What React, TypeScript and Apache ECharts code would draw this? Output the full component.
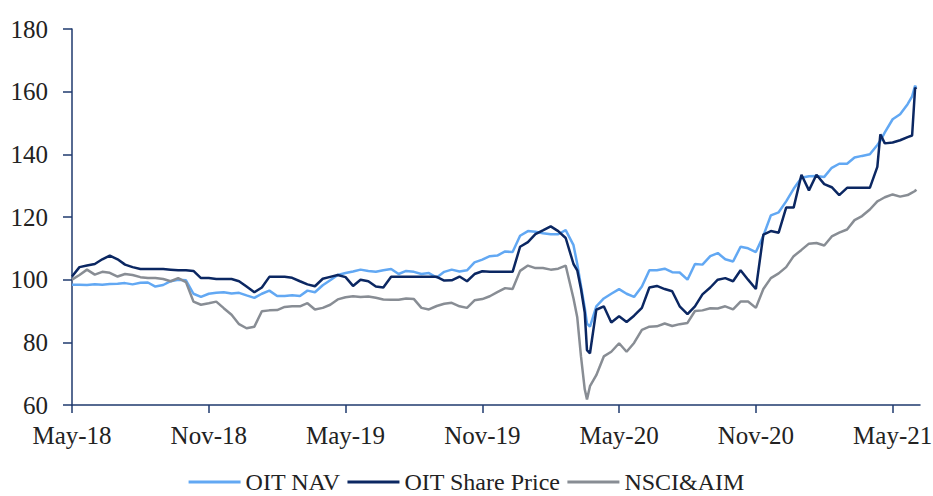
import React, { useEffect, useRef } from "react";
import * as echarts from "echarts";

const dates: string[] = [
  "2018-05-01", "2018-05-11", "2018-05-21", "2018-06-01", "2018-06-11", "2018-06-21",
  "2018-07-01", "2018-07-11", "2018-07-21", "2018-08-01", "2018-08-11", "2018-08-21",
  "2018-09-01", "2018-09-11", "2018-09-21", "2018-10-01", "2018-10-11", "2018-10-21",
  "2018-11-01", "2018-11-11", "2018-11-21", "2018-12-01", "2018-12-11", "2018-12-21",
  "2019-01-01", "2019-01-11", "2019-01-21", "2019-02-01", "2019-02-11", "2019-02-21",
  "2019-03-01", "2019-03-11", "2019-03-21", "2019-04-01", "2019-04-11", "2019-04-21",
  "2019-05-01", "2019-05-11", "2019-05-21", "2019-06-01", "2019-06-11", "2019-06-21",
  "2019-07-01", "2019-07-11", "2019-07-21", "2019-08-01", "2019-08-11", "2019-08-21",
  "2019-09-01", "2019-09-11", "2019-09-21", "2019-10-01", "2019-10-11", "2019-10-21",
  "2019-11-01", "2019-11-11", "2019-11-21", "2019-12-01", "2019-12-11", "2019-12-21",
  "2020-01-01", "2020-01-11", "2020-01-21", "2020-02-01", "2020-02-11", "2020-02-21",
  "2020-03-01", "2020-03-06", "2020-03-11", "2020-03-16", "2020-03-19", "2020-03-23",
  "2020-04-01", "2020-04-11", "2020-04-21", "2020-05-01", "2020-05-11", "2020-05-21",
  "2020-06-01", "2020-06-11", "2020-06-21", "2020-07-01", "2020-07-11", "2020-07-21",
  "2020-08-01", "2020-08-11", "2020-08-21", "2020-09-01", "2020-09-11", "2020-09-21",
  "2020-10-01", "2020-10-11", "2020-10-21", "2020-11-01", "2020-11-11", "2020-11-21",
  "2020-12-01", "2020-12-11", "2020-12-21", "2021-01-01", "2021-01-11", "2021-01-21",
  "2021-02-01", "2021-02-11", "2021-02-21", "2021-03-01", "2021-03-11", "2021-03-21",
  "2021-04-01", "2021-04-11", "2021-04-15", "2021-04-21",
  "2021-05-01", "2021-05-11", "2021-05-21", "2021-05-27", "2021-05-31", "2021-06-02",
];

const oitNav: number[] = [
  98.4, 98.4, 98.3, 98.5, 98.4, 98.6,
  98.7, 98.9, 98.5, 99.0, 99.1, 97.8,
  98.3, 99.5, 100.0, 99.8, 95.5, 94.5,
  95.5, 95.8, 96.0, 95.6, 95.8, 95.0,
  94.2, 95.5, 96.5, 94.8, 94.8, 95.0,
  94.8, 96.5, 96.0, 98.2, 99.8, 101.5,
  102.1, 102.6, 103.2, 102.8, 102.5, 103.0,
  103.4, 101.8, 102.8, 102.5, 101.8, 102.1,
  100.7, 102.5, 103.2, 102.6, 103.0, 105.5,
  106.4, 107.5, 107.7, 109.0, 108.8, 114.0,
  115.5, 115.3, 114.8, 114.5, 114.5, 115.8,
  111.0, 105.0, 98.0, 91.0, 86.0, 85.0,
  91.5, 94.0, 95.5, 97.0, 95.5, 94.5,
  97.8, 103.0, 103.0, 103.5, 102.4, 102.3,
  100.0, 105.0, 104.8, 107.5, 108.5, 106.5,
  105.8, 110.5, 110.0, 108.8, 114.0, 120.5,
  121.5, 125.0, 129.0, 132.5, 133.0, 133.1,
  132.8, 135.7, 137.0, 137.0, 139.0, 139.5,
  140.0, 143.0, 144.3, 147.0,
  151.2, 152.8, 156.0, 158.5, 161.9, 161.2,
];

const oitSharePrice: number[] = [
  101.0, 104.0, 104.5, 105.0, 106.5, 107.7,
  106.5, 104.8, 104.0, 103.4, 103.4, 103.4,
  103.4, 103.2, 103.0, 103.0, 102.8, 100.5,
  100.5, 100.2, 100.2, 100.2, 99.5, 97.8,
  96.0, 97.5, 100.9, 100.9, 100.9, 100.6,
  99.5, 98.5, 97.9, 100.3, 100.9, 101.5,
  100.8, 98.0, 100.0, 99.5, 97.8, 97.5,
  100.9, 100.9, 100.9, 100.9, 100.9, 100.9,
  100.9, 99.7, 99.8, 101.0, 99.5, 101.8,
  102.7, 102.5, 102.5, 102.5, 102.5, 110.5,
  112.0, 114.5, 115.7, 117.0, 115.5, 113.3,
  105.0, 103.0, 97.0, 89.5, 77.5, 76.5,
  90.4, 91.5, 86.3, 88.3, 86.5, 88.5,
  91.0, 97.5, 98.0, 97.0, 96.3, 91.5,
  89.0, 91.5, 95.3, 97.5, 100.0, 100.5,
  99.5, 103.0, 100.0, 97.0, 114.4, 115.5,
  115.0, 123.0, 123.0, 133.5, 128.5, 133.5,
  130.5, 129.5, 127.0, 129.3, 129.3, 129.3,
  129.3, 136.0, 146.4, 143.5,
  143.8, 144.5, 145.5, 146.0, 161.3, 160.8,
];

const nsciAim: number[] = [
  100.0, 101.5, 103.2, 101.6, 102.5, 102.2,
  101.0, 101.8, 101.5, 100.8, 100.5, 100.5,
  100.2, 99.5, 100.5, 99.2, 93.0, 92.0,
  92.5, 93.0, 90.9, 88.8, 85.8, 84.5,
  85.0, 89.9, 90.2, 90.3, 91.3, 91.5,
  91.5, 92.5, 90.5, 91.0, 92.0, 93.7,
  94.4, 94.7, 94.5, 94.6, 94.2, 93.7,
  93.6, 93.6, 94.0, 93.8, 91.0, 90.5,
  91.6, 92.3, 92.6, 91.5, 91.0, 93.4,
  93.8, 94.7, 96.0, 97.3, 97.0, 102.8,
  104.5, 103.7, 103.7, 103.2, 103.5, 104.5,
  94.0, 88.0, 75.5, 65.0, 61.8, 66.0,
  69.5, 75.5, 77.0, 79.7, 77.0, 79.8,
  84.0, 85.0, 85.1, 86.0, 85.2, 85.8,
  86.2, 90.0, 90.2, 90.9, 90.8, 91.5,
  90.5, 93.0, 93.0, 91.0, 97.0, 100.5,
  102.0, 104.0, 107.5, 109.5, 111.5, 111.7,
  110.9, 113.8, 115.0, 116.0, 119.0, 120.3,
  122.4, 125.0, 125.5, 126.3,
  127.2, 126.5, 127.0, 127.8, 128.3, 128.8,
];

const seriesNames = ["OIT NAV", "OIT Share Price", "NSCI&AIM"];
const xTickValues = [0, 6, 12, 18, 24, 30, 36];
const xTickLabels = ["May-18", "Nov-18", "May-19", "Nov-19", "May-20", "Nov-20", "May-21"];
const yTicks = [60, 80, 100, 120, 140, 160, 180];

const toMonths = (s: string): number => {
  const [y, m, d] = s.split("-").map(Number);
  return (y - 2018) * 12 + (m - 5) + (d - 1) / 30.44;
};

const pairs = (vals: number[]) => dates.map((d, i) => [toMonths(d), vals[i]]);

const FONT = "Liberation Serif";
const AXIS = "#1F3A6E";
const C_NAV = "#62A8F3";
const C_SP = "#0B2762";
const C_IDX = "#888D94";

export default function App() {
  const ref = useRef<HTMLDivElement>(null);
  useEffect(() => {
    if (!ref.current) return;
    const chart = echarts.init(ref.current, undefined, { renderer: "svg" });
    const legendText = { fontFamily: FONT, fontSize: 24, color: "#222" };
    chart.setOption({
      animation: false,
      textStyle: { fontFamily: FONT },
      grid: { left: 72, right: 13, top: 29, bottom: 91, containLabel: false, outerBoundsMode: "none" },
      legend: {
        data: [
          { name: seriesNames[0], itemStyle: { color: C_NAV }, textStyle: legendText },
          { name: seriesNames[1], itemStyle: { color: C_SP }, textStyle: legendText },
          { name: seriesNames[2], itemStyle: { color: C_IDX }, textStyle: legendText },
        ],
        icon: "rect",
        top: 465,
        left: "center",
        itemWidth: 52,
        itemHeight: 3,
        itemGap: 7,
        textStyle: legendText,
      },
      xAxis: {
        type: "value",
        min: 0,
        max: 37.2,
        interval: 6,
        axisLine: { show: true, lineStyle: { color: AXIS, width: 1.5 } },
        axisTick: { show: true, length: 8, lineStyle: { color: AXIS, width: 1.5 }, customValues: xTickValues },
        axisLabel: {
          customValues: xTickValues,
          margin: 18,
          fontFamily: FONT,
          fontSize: 25,
          color: "#222",
          formatter: (v: number) => {
            const idx = xTickValues.indexOf(Math.round(v));
            return idx >= 0 && Math.abs(v - Math.round(v)) < 1e-6 ? xTickLabels[idx] : "";
          },
        },
        splitLine: { show: false },
      },
      yAxis: {
        type: "value",
        min: yTicks[0],
        max: yTicks[yTicks.length - 1],
        interval: 20,
        axisLine: { show: true, lineStyle: { color: AXIS, width: 1.5 } },
        axisTick: { show: true, length: 9, lineStyle: { color: AXIS, width: 1.5 } },
        axisLabel: { margin: 24, fontFamily: FONT, fontSize: 25, color: "#222" },
        splitLine: { show: false },
      },
      series: [
        {
          name: seriesNames[0],
          type: "line",
          data: pairs(oitNav),
          symbol: "none",
          showSymbol: false,
          color: C_NAV,
          lineStyle: { color: C_NAV, width: 2.5 },
          z: 2,
        },
        {
          name: seriesNames[2],
          type: "line",
          data: pairs(nsciAim),
          symbol: "none",
          showSymbol: false,
          color: C_IDX,
          lineStyle: { color: C_IDX, width: 2.5 },
          z: 3,
        },
        {
          name: seriesNames[1],
          type: "line",
          data: pairs(oitSharePrice),
          symbol: "none",
          showSymbol: false,
          color: C_SP,
          lineStyle: { color: C_SP, width: 2.5 },
          z: 4,
        },
      ],
    });
    return () => chart.dispose();
  }, []);
  return (
    <div
      ref={ref}
      style={{ position: "fixed", left: 0, top: 0, width: 933, height: 496, background: "#fff" }}
    />
  );
}
